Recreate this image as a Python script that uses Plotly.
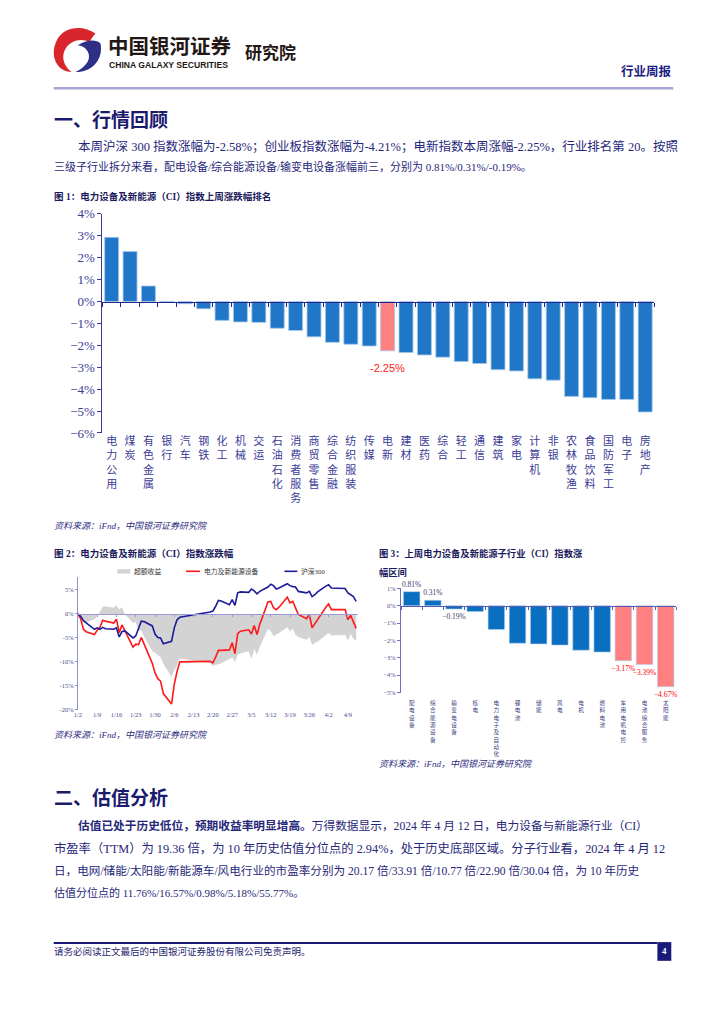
import plotly.graph_objects as go

W, H = 724, 1024
def X(px): return px / W
def Y(py): return 1 - py / H

# ---------------- data ----------------
fig1_categories = ["电力公用", "煤炭", "有色金属", "银行", "汽车", "钢铁", "化工", "机械", "交运",
                   "石油石化", "消费者服务", "商贸零售", "综合金融", "纺织服装", "传媒", "电新", "建材",
                   "医药", "综合", "轻工", "通信", "建筑", "家电", "计算机", "非银", "农林牧渔",
                   "食品饮料", "国防军工", "电子", "房地产"]
fig1_values = [2.93, 2.29, 0.71, -0.02, -0.10, -0.33, -0.86, -0.93, -0.95, -1.22, -1.32, -1.61,
               -1.86, -1.95, -2.03, -2.25, -2.33, -2.44, -2.54, -2.74, -2.83, -3.11, -3.17, -3.53,
               -3.59, -4.33, -4.39, -4.47, -4.47, -5.04]
fig1_highlight = "电新"
fig1_highlight_label = "-2.25%"
fig1_yticks = [4, 3, 2, 1, 0, -1, -2, -3, -4, -5, -6]

fig2_dates = ["2024-01-02", "2024-01-03", "2024-01-04", "2024-01-05", "2024-01-08", "2024-01-09",
              "2024-01-10", "2024-01-11", "2024-01-12", "2024-01-15", "2024-01-16", "2024-01-17",
              "2024-01-18", "2024-01-19", "2024-01-22", "2024-01-23", "2024-01-24", "2024-01-25",
              "2024-01-26", "2024-01-29", "2024-01-30", "2024-01-31",
              "2024-02-01", "2024-02-02", "2024-02-05", "2024-02-06", "2024-02-07", "2024-02-08",
              "2024-02-19", "2024-02-20", "2024-02-21", "2024-02-22", "2024-02-23", "2024-02-26",
              "2024-02-27", "2024-02-28", "2024-02-29",
              "2024-03-01", "2024-03-04", "2024-03-05", "2024-03-06", "2024-03-07", "2024-03-08",
              "2024-03-11", "2024-03-12", "2024-03-13", "2024-03-14", "2024-03-15", "2024-03-18",
              "2024-03-19", "2024-03-20", "2024-03-21", "2024-03-22", "2024-03-25", "2024-03-26",
              "2024-03-27", "2024-03-28", "2024-03-29",
              "2024-04-01", "2024-04-02", "2024-04-03", "2024-04-08", "2024-04-09", "2024-04-10",
              "2024-04-11", "2024-04-12"]
fig2_sector = [0, -1.0, -3.2, -3.7, -4.3, -3.4, -2.8, -1.3, -1.5, -1.9, -1.1, -3.9, -2.3, -3.5,
               -6.9, -6.3, -6.4, -4.9, -6.3, -10.3, -12.3, -13.5,
               -14.0, -16.6, -18.8, -14.6, -12.0, -10.0, -9.9, -10.2, -9.0, -7.6, -7.6, -7.5,
               -6.0, -8.3, -4.1,
               -3.6, -3.3, -4.2, -2.4, -4.3, -2.2, 2.5, 2.6, 1.3, 0.9, 1.4, 3.5, 2.3, 2.6, 1.2,
               -0.1, -1.0, -0.1, -2.9, -2.0, -1.2,
               1.4, 2.1, 0.9, 0.9, -1.2, -0.3, -1.6, -3.0]
fig2_hs300 = [0, -0.5, -1.4, -1.9, -3.2, -2.9, -3.2, -2.8, -3.1, -3.2, -2.9, -4.8, -3.7, -3.5,
              -5.0, -4.6, -2.9, -1.5, -1.6, -2.5, -4.2, -4.9,
              -5.0, -6.2, -5.7, -2.9, -1.2, -0.7, 0.4, 0.6, 1.6, 2.8, 2.7, 1.9, 3.0, 1.8, 4.4,
              4.6, 4.5, 5.2, 4.8, 4.2, 4.7, 5.6, 6.2, 5.9, 5.2, 5.4, 6.3, 5.9, 5.7, 5.6, 4.7,
              4.4, 4.7, 3.6, 4.0, 4.6,
              5.8, 6.1, 5.4, 5.3, 4.4, 3.9, 3.6, 2.6]
fig2_excess = [round(s - h, 2) for s, h in zip(fig2_sector, fig2_hs300)]
fig2_tick_dates = ["2024-01-02", "2024-01-09", "2024-01-16", "2024-01-23", "2024-01-30",
                   "2024-02-06", "2024-02-13", "2024-02-20", "2024-02-27", "2024-03-05",
                   "2024-03-12", "2024-03-19", "2024-03-26", "2024-04-02", "2024-04-09"]
fig2_tick_labels = ["1/2", "1/9", "1/16", "1/23", "1/30", "2/6", "2/13", "2/20", "2/27", "3/5",
                    "3/12", "3/19", "3/26", "4/2", "4/9"]
fig2_yticks = [5, 0, -5, -10, -15, -20]
fig2_series_names = ["超额收益", "电力及新能源设备", "沪深300"]

fig3_categories = ["配电设备", "综合能源设备", "输变电设备", "核电", "电力电子及自动化", "锂电池",
                   "储能", "风电", "电机", "燃料电池", "车用电机电控", "电池综合服务", "太阳能"]
fig3_values = [0.81, 0.31, -0.19, -0.34, -1.37, -2.16, -2.20, -2.27, -2.56, -2.67, -3.17, -3.39, -4.67]
fig3_labels = ["0.81%", "0.31%", "−0.19%", "", "", "", "", "", "", "", "−3.17%", "−3.39%", "−4.67%"]
fig3_highlight = ["车用电机电控", "电池综合服务", "太阳能"]
fig3_yticks = [1, 0, -1, -2, -3, -4, -5]

# ---------------- styles ----------------
CJK = "Noto Sans CJK SC"
SERIF = "Liberation Serif, Noto Sans CJK SC"
NAVY = "#1b1b6e"
BODY = "#27277a"
BLUE1 = "#2177c7"
BLUE3 = "#0b6fc1"
PINK = "#ff8080"

def pct(v, minus="−"):
    return (minus if v < 0 else "") + f"{abs(v):g}%"

fig = go.Figure()

# ---- figure 1 ----
f1_idx = list(range(len(fig1_categories)))
f1_colors = [PINK if c == fig1_highlight else BLUE1 for c in fig1_categories]
fig.add_trace(go.Bar(x=f1_idx, y=fig1_values, marker=dict(color=f1_colors, line=dict(color="#a8c8ea", width=0.8)),
                     width=0.76, xaxis="x", yaxis="y", hoverinfo="skip"))
fig.add_trace(go.Scatter(x=[0], y=[0], xaxis="x2", yaxis="y", mode="markers",
                         marker=dict(size=1, opacity=0), hoverinfo="skip"))

# ---- figure 2 ----
fig.add_trace(go.Scatter(x=fig2_dates, y=fig2_excess, name=fig2_series_names[0], mode="lines",
                         fill="tozeroy", fillcolor="#d3d3d3", line=dict(width=0, color="#d3d3d3"),
                         xaxis="x3", yaxis="y3", hoverinfo="skip"))
fig.add_trace(go.Scatter(x=fig2_dates, y=fig2_sector, name=fig2_series_names[1], mode="lines",
                         line=dict(color="#ff1a1a", width=1.6), xaxis="x3", yaxis="y3", hoverinfo="skip"))
fig.add_trace(go.Scatter(x=fig2_dates, y=fig2_hs300, name=fig2_series_names[2], mode="lines",
                         line=dict(color="#1c1c9a", width=1.6), xaxis="x3", yaxis="y3", hoverinfo="skip"))
fig.add_trace(go.Scatter(x=[fig2_dates[0]], y=[0], xaxis="x4", yaxis="y3", mode="markers",
                         marker=dict(size=1, opacity=0), hoverinfo="skip"))

# ---- figure 3 ----
f3_idx = list(range(len(fig3_categories)))
f3_colors = [PINK if c in fig3_highlight else BLUE3 for c in fig3_categories]
f3_text_colors = ["#ff0000" if c in fig3_highlight else "#3a3a70" for c in fig3_categories]
fig.add_trace(go.Bar(x=f3_idx, y=fig3_values, marker=dict(color=f3_colors, line=dict(color="#b5cfee", width=0.6)),
                     width=0.78, text=fig3_labels, textposition="outside", cliponaxis=False,
                     constraintext="none", textfont=dict(family=SERIF, size=7.5, color=f3_text_colors),
                     xaxis="x5", yaxis="y5", hoverinfo="skip"))
fig.add_trace(go.Scatter(x=[0], y=[0], xaxis="x6", yaxis="y5", mode="markers",
                         marker=dict(size=1, opacity=0), hoverinfo="skip"))

# ---------------- axes ----------------
f1_ydom = [Y(432.3), Y(210)]
f1_yr = [-6, 4]
f1_zero = f1_ydom[0] + (0 - f1_yr[0]) / (f1_yr[1] - f1_yr[0]) * (f1_ydom[1] - f1_ydom[0])
f1_xr = [-0.5, len(fig1_categories) - 0.5]
AX1 = "#3b3b96"

f2_ydom = [Y(713.3), Y(578)]
f2_yr = [-20, 7.8]
f2_zero = f2_ydom[0] + (0 - f2_yr[0]) / (f2_yr[1] - f2_yr[0]) * (f2_ydom[1] - f2_ydom[0])
f2_xr = ["2024-01-02", "2024-04-12 12:00"]

f3_ydom = [Y(695.7), Y(590)]
f3_yr = [-5, 1]
f3_zero = f3_ydom[0] + (0 - f3_yr[0]) / (f3_yr[1] - f3_yr[0]) * (f3_ydom[1] - f3_ydom[0])
f3_xr = [-0.5, len(fig3_categories) - 0.5]

fig.update_layout(
    width=W, height=H, autosize=False, margin=dict(l=0, r=0, t=0, b=0),
    paper_bgcolor="white", plot_bgcolor="white", showlegend=False,
    xaxis=dict(domain=[X(99), X(654)], range=f1_xr, anchor="y", tickmode="array", tickvals=f1_idx,
               ticktext=["<br>".join(c) for c in fig1_categories], ticks="",
               tickfont=dict(family=SERIF, size=11, color=AX1), showline=False, showgrid=False,
               zeroline=False, fixedrange=True),
    xaxis2=dict(overlaying="x", anchor="free", position=f1_zero, range=f1_xr, tickmode="array",
                tickvals=[i - 0.5 for i in range(len(fig1_categories) + 1)], ticks="outside", ticklen=4,
                tickcolor="#24248a", showticklabels=False, showline=True, linecolor="#24248a",
                linewidth=1.5, showgrid=False, zeroline=False, fixedrange=True),
    yaxis=dict(domain=f1_ydom, range=f1_yr, anchor="x", tickmode="array", tickvals=fig1_yticks,
               ticktext=[pct(v) for v in fig1_yticks], ticks="outside", ticklen=4, tickcolor=AX1,
               tickfont=dict(family=SERIF, size=13, color=AX1), showline=True, linecolor=AX1,
               linewidth=1, showgrid=False, zeroline=False, fixedrange=True),
    xaxis3=dict(domain=[X(74.3), X(355.5)], type="date", range=f2_xr, anchor="y3", tickmode="array",
                tickvals=fig2_tick_dates, ticktext=fig2_tick_labels, ticks="",
                tickfont=dict(family=SERIF, size=6.5, color="#4d4d8f"), showline=False, showgrid=False,
                zeroline=False, fixedrange=True),
    xaxis4=dict(overlaying="x3", anchor="free", position=f2_zero, type="date", range=f2_xr,
                tickmode="array", tickvals=fig2_tick_dates, ticks="outside", ticklen=2,
                tickcolor="#9a9ad8", showticklabels=False, showline=True, linecolor="#9a9ad8",
                linewidth=1, showgrid=False, zeroline=False, fixedrange=True),
    yaxis3=dict(domain=f2_ydom, range=f2_yr, anchor="x3", tickmode="array", tickvals=fig2_yticks,
                ticktext=[pct(v, "-") for v in fig2_yticks], ticks="outside", ticklen=2,
                tickcolor="#8f8fd0", tickfont=dict(family=SERIF, size=6.5, color="#4d4d8f"),
                showline=True, linecolor="#8f8fd0", linewidth=1, showgrid=False, zeroline=False,
                fixedrange=True),
    xaxis5=dict(domain=[X(399.3), X(676)], range=f3_xr, anchor="y5", tickmode="array", tickvals=f3_idx,
                ticktext=["<br>".join(c) for c in fig3_categories], ticks="", ticklabelstandoff=6,
                tickfont=dict(family=CJK, size=5.6, color="#3d3d7d"),
                showline=False, showgrid=False, zeroline=False, fixedrange=True),
    xaxis6=dict(overlaying="x5", anchor="free", position=f3_zero, range=f3_xr, tickmode="array",
                tickvals=[i - 0.5 for i in range(len(fig3_categories) + 1)], ticks="outside", ticklen=3,
                tickcolor="#5a5ab0", showticklabels=False, showline=True, linecolor="#5a5ab0",
                linewidth=1, showgrid=False, zeroline=False, fixedrange=True),
    yaxis5=dict(domain=f3_ydom, range=f3_yr, anchor="x5", tickmode="array", tickvals=fig3_yticks,
                ticktext=[pct(v) for v in fig3_yticks], ticks="outside", ticklen=3, tickcolor="#6f6fc0",
                tickfont=dict(family=SERIF, size=6.5, color="#4d4d8f"), showline=True,
                linecolor="#6f6fc0", linewidth=1, showgrid=False, zeroline=False, fixedrange=True),
)

# ---------------- text ----------------
ann = []
def T(text, x, y, size, color=BODY, bold=False, family=CJK, xanchor="left", yanchor="middle", **kw):
    ann.append(dict(text=("<b>%s</b>" % text) if bold else text, x=X(x), y=Y(y), xref="paper",
                    yref="paper", xanchor=xanchor, yanchor=yanchor, showarrow=False,
                    font=dict(family=family, size=size, color=color), **kw))

# header
T("中国银河证券", 104, 39, 20.5, "#231815", True, borderpad=0)
T("CHINA GALAXY SECURITIES", 105, 58.5, 8.6, "#231815", True, "Liberation Sans Narrow, Liberation Sans",
  borderpad=0)
T("研究院", 240, 45, 17, "#231815", True)
T("行业周报", 674, 64, 12.5, "#1d1d7f", True, xanchor="right")

# section 1
T("一、行情回顾", 48, 113, 19, NAVY, True)
T("本周沪深 300 指数涨幅为-2.58%；创业板指数涨幅为-4.21%；电新指数本周涨幅-2.25%，行业排名第 20。按照",
  72, 142, 12.5, BODY, family=SERIF)
T("三级子行业拆分来看，配电设备/综合能源设备/输变电设备涨幅前三，分别为 0.81%/0.31%/-0.19%。",
  48, 162, 11, BODY, family=SERIF)
T("图 1：电力设备及新能源（CI）指数上周涨跌幅排名", 48, 192, 9.5, "#1a1a5c", True, SERIF)
T("<i>资料来源：iFnd，中国银河证券研究院</i>", 48, 527, 9, "#2e2e80", family=SERIF)

# figure 1 highlight label
hi = fig1_categories.index(fig1_highlight)
ann.append(dict(text=fig1_highlight_label, x=hi, y=fig1_values[hi],
                xref="x", yref="y", xanchor="center", yanchor="top", yshift=-9, showarrow=False,
                font=dict(family="Liberation Sans", size=11, color="#ff2020")))

# figure 2 / 3 titles
T("图 2：电力设备及新能源（CI）指数涨跌幅", 48, 555, 9.5, "#1a1a5c", True, SERIF)
T("图 3：上周电力设备及新能源子行业（CI）指数涨", 375, 555, 9.3, "#1a1a5c", True, SERIF)
T("幅区间", 375, 574, 9.3, "#1a1a5c", True, SERIF)

# figure 2 legend
T(fig2_series_names[0], 129, 572.7, 6.8, "#333333", family=SERIF)
T(fig2_series_names[1], 199, 572.7, 6.8, "#333333", family=SERIF)
T(fig2_series_names[2], 297, 572.7, 6.8, "#333333", family=SERIF)

T("<i>资料来源：iFnd，中国银河证券研究院</i>", 48, 739, 9, "#2e2e80", family=SERIF)
T("<i>资料来源：iFnd，中国银河证券研究院</i>", 375, 768, 9, "#2e2e80", family=SERIF)

# section 2
T("二、估值分析", 48, 801, 19, NAVY, True)
T("<b>估值已处于历史低位，预期收益率明显增高。</b>万得数据显示，2024 年 4 月 12 日，电力设备与新能源行业（CI）",
  72, 831, 11.7, BODY, family=SERIF)
T("市盈率（TTM）为 19.36 倍，为 10 年历史估值分位点的 2.94%，处于历史底部区域。分子行业看，2024 年 4 月 12",
  48, 854, 12.3, BODY, family=SERIF)
T("日，电网/储能/太阳能/新能源车/风电行业的市盈率分别为 20.17 倍/33.91 倍/10.77 倍/22.90 倍/30.04 倍，为 10 年历史",
  48, 877, 11.6, BODY, family=SERIF)
T("估值分位点的 11.76%/16.57%/0.98%/5.18%/55.77%。", 48, 899, 11, BODY, family=SERIF)

# footer
T("请务必阅读正文最后的中国银河证券股份有限公司免责声明。", 48, 959, 9.5, "#1d1d6e", family=SERIF)
T("4", 664, 958.5, 9, "white", True, SERIF, xanchor="center")

fig.update_layout(annotations=ann)

# ---------------- shapes ----------------
def pt(x, y):
    return f"{X(x):.5f},{Y(y):.5f}"

def path(segs):
    out = []
    for s in segs:
        cmd, pts = s[0], s[1:]
        out.append(cmd + " " + " ".join(pt(*p) for p in pts))
    return " ".join(out) + " Z"

logo_red = path([("M", (92, 27)), ("C", (80, 18), (60, 19), (53, 34)), ("C", (45, 50), (54, 66), (68, 66)),
                 ("C", (60, 60), (57, 50), (62, 42)), ("C", (67, 34), (78, 31), (86, 36)),
                 ("C", (88, 32), (90, 29), (92, 27))])
logo_navy = path([("M", (97, 37)), ("C", (100, 52), (90, 66), (72, 66)), ("C", (84, 60), (88, 52), (84, 45)),
                  ("C", (82, 41), (78, 39), (74, 39)), ("C", (82, 34), (92, 32), (97, 37))])

shapes = [
    dict(type="path", path=logo_red, xref="paper", yref="paper", fillcolor="#d9262c", line=dict(width=0)),
    dict(type="path", path=logo_navy, xref="paper", yref="paper", fillcolor="#2e3087", line=dict(width=0)),
    dict(type="line", x0=X(50), x1=X(673), y0=Y(82.5), y1=Y(82.5), xref="paper", yref="paper",
         line=dict(color="#a5a5d8", width=2.5)),
    # fig 2 legend samples
    dict(type="rect", x0=X(114), x1=X(127), y0=Y(575), y1=Y(570.5), xref="paper", yref="paper",
         fillcolor="#d3d3d3", line=dict(width=0)),
    dict(type="line", x0=X(183), x1=X(197), y0=Y(572.7), y1=Y(572.7), xref="paper", yref="paper",
         line=dict(color="#ff1a1a", width=1.6)),
    dict(type="line", x0=X(282), x1=X(295), y0=Y(572.7), y1=Y(572.7), xref="paper", yref="paper",
         line=dict(color="#1c1c9a", width=1.6)),
    # footer
    dict(type="line", x0=X(50), x1=X(657), y0=Y(950), y1=Y(950), xref="paper", yref="paper",
         line=dict(color="#1a1a7a", width=2)),
    dict(type="rect", x0=X(657), x1=X(671), y0=Y(968), y1=Y(949), xref="paper", yref="paper",
         fillcolor="#1a1a7a", line=dict(width=0)),
]
fig.update_layout(shapes=shapes)

fig.write_html("out.html", config={"displayModeBar": False, "staticPlot": True},
               post_script="document.body.style.margin='0';document.body.style.overflow='hidden';")
